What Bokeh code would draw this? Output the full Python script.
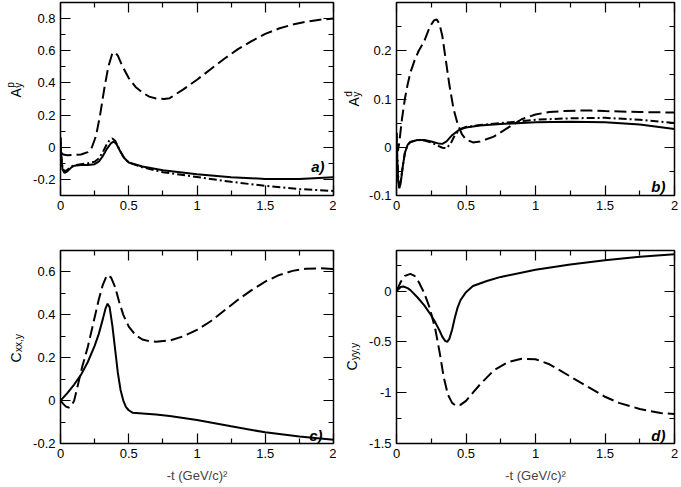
import math
from bokeh.plotting import figure
from bokeh.models import Range1d, LinearAxis, FixedTicker, Label, CustomLabelingPolicy
from bokeh.layouts import column, row
from bokeh.embed import file_html
from bokeh.resources import INLINE

# ---------------- data ----------------
x_ticks = [0, 0.5, 1, 1.5, 2]
x_tick_labels = ["0", "0.5", "1", "1.5", "2"]
x_minor = [0.25, 0.75, 1.25, 1.75]

# panel a) A_y^p
a_dash_x = [0, 0.02, 0.05, 0.1, 0.15, 0.2, 0.23, 0.26, 0.29, 0.32, 0.35, 0.38, 0.4, 0.42, 0.45, 0.5,
            0.55, 0.6, 0.65, 0.7, 0.76, 0.8, 0.9, 1.0, 1.1, 1.2, 1.3, 1.4, 1.5, 1.6, 1.7, 1.8, 1.9, 2.0]
a_dash_y = [-0.03, -0.045, -0.05, -0.048, -0.045, -0.03, 0.0, 0.07, 0.2, 0.36, 0.5, 0.585, 0.59, 0.57,
            0.51, 0.43, 0.375, 0.34, 0.315, 0.303, 0.3, 0.305, 0.36, 0.42, 0.485, 0.55, 0.61, 0.66,
            0.705, 0.738, 0.763, 0.781, 0.793, 0.8]
a_solid_x = [0, 0.005, 0.015, 0.03, 0.05, 0.08, 0.1, 0.15, 0.2, 0.25, 0.28, 0.31, 0.34, 0.37, 0.39,
             0.41, 0.44, 0.47, 0.5, 0.6, 0.75, 1.0, 1.25, 1.5, 1.75, 2.0]
a_solid_y = [0.06, -0.05, -0.14, -0.16, -0.15, -0.125, -0.115, -0.11, -0.11, -0.105, -0.09, -0.055,
             -0.01, 0.025, 0.035, 0.02, -0.03, -0.07, -0.095, -0.12, -0.143, -0.168, -0.186, -0.197,
             -0.198, -0.186]
a_dd_x = [0, 0.005, 0.015, 0.03, 0.05, 0.08, 0.1, 0.15, 0.2, 0.25, 0.28, 0.31, 0.34, 0.36, 0.38, 0.4,
          0.43, 0.46, 0.5, 0.6, 0.75, 1.0, 1.25, 1.5, 1.75, 2.0]
a_dd_y = [0.06, -0.05, -0.13, -0.15, -0.14, -0.12, -0.112, -0.105, -0.1, -0.09, -0.07, -0.03, 0.02,
          0.045, 0.055, 0.04, -0.01, -0.06, -0.095, -0.125, -0.155, -0.185, -0.215, -0.24, -0.26, -0.272]
a_y_ticks = [-0.2, 0, 0.2, 0.4, 0.6, 0.8]
a_y_labels = ["-0.2", "0", "0.2", "0.4", "0.6", "0.8"]
a_y_minor = [-0.3, -0.1, 0.1, 0.3, 0.5, 0.7, 0.9]

# panel b) A_y^d
b_dash_x = [0, 0.01, 0.02, 0.04, 0.06, 0.08, 0.1, 0.13, 0.16, 0.2, 0.24, 0.27, 0.29, 0.31, 0.33, 0.35,
            0.38, 0.41, 0.44, 0.47, 0.5, 0.55, 0.6, 0.7, 0.8, 0.9, 1.0, 1.1, 1.2, 1.3, 1.4, 1.5, 1.75, 2.0]
b_dash_y = [0.0, -0.008, 0.01, 0.06, 0.1, 0.13, 0.155, 0.18, 0.2, 0.22, 0.25, 0.263, 0.265, 0.255,
            0.23, 0.19, 0.13, 0.08, 0.048, 0.027, 0.016, 0.01, 0.012, 0.022, 0.04, 0.058, 0.068, 0.073,
            0.075, 0.076, 0.076, 0.075, 0.073, 0.072]
b_solid_x = [0, 0.005, 0.012, 0.02, 0.03, 0.045, 0.06, 0.08, 0.1, 0.15, 0.2, 0.25, 0.3, 0.33, 0.36,
             0.4, 0.45, 0.5, 0.6, 0.75, 1.0, 1.25, 1.5, 1.75, 2.0]
b_solid_y = [0.03, -0.02, -0.07, -0.085, -0.075, -0.04, -0.012, 0.005, 0.011, 0.015, 0.015, 0.012,
             0.008, 0.007, 0.012, 0.025, 0.036, 0.041, 0.045, 0.048, 0.052, 0.053, 0.052, 0.047, 0.038]
b_dd_x = [0, 0.005, 0.012, 0.02, 0.03, 0.045, 0.06, 0.08, 0.1, 0.15, 0.2, 0.25, 0.3, 0.33, 0.36, 0.39,
          0.42, 0.46, 0.5, 0.6, 0.75, 1.0, 1.25, 1.5, 1.75, 2.0]
b_dd_y = [0.03, -0.015, -0.06, -0.08, -0.072, -0.04, -0.012, 0.005, 0.011, 0.015, 0.014, 0.01, 0.003,
          -0.001, -0.002, 0.008, 0.025, 0.038, 0.042, 0.046, 0.05, 0.057, 0.06, 0.061, 0.057, 0.05]
b_y_ticks = [-0.1, 0, 0.1, 0.2, 0.3]
b_y_labels = ["-0.1", "0", "0.1", "0.2", ""]
b_y_minor = [-0.05, 0.05, 0.15, 0.25]

# panel c) C_xx,y
c_solid_x = [0, 0.05, 0.1, 0.15, 0.2, 0.25, 0.28, 0.31, 0.33, 0.345, 0.36, 0.38, 0.4, 0.42, 0.44,
             0.46, 0.48, 0.5, 0.53, 0.6, 0.7, 0.8, 1.0, 1.25, 1.5, 1.75, 2.0]
c_solid_y = [0.0, 0.035, 0.075, 0.12, 0.18, 0.255, 0.31, 0.38, 0.43, 0.452, 0.435, 0.35, 0.24, 0.13,
             0.05, 0.0, -0.03, -0.045, -0.057, -0.06, -0.065, -0.072, -0.09, -0.12, -0.148, -0.167, -0.182]
c_dash_x = [0, 0.02, 0.04, 0.06, 0.08, 0.1, 0.13, 0.16, 0.2, 0.24, 0.28, 0.31, 0.34, 0.37, 0.4, 0.43,
            0.46, 0.5, 0.55, 0.6, 0.65, 0.7, 0.8, 0.9, 1.0, 1.1, 1.2, 1.3, 1.4, 1.5, 1.6, 1.7, 1.8, 1.9, 2.0]
c_dash_y = [0.0, -0.015, -0.028, -0.033, -0.025, 0.0, 0.08, 0.16, 0.25, 0.36, 0.47, 0.54, 0.585, 0.575,
            0.53, 0.46, 0.4, 0.345, 0.305, 0.285, 0.277, 0.275, 0.28, 0.3, 0.33, 0.37, 0.42, 0.47,
            0.515, 0.555, 0.585, 0.605, 0.615, 0.617, 0.614]
c_y_ticks = [-0.2, 0, 0.2, 0.4, 0.6]
c_y_labels = ["-0.2", "0", "0.2", "0.4", "0.6"]
c_y_minor = [-0.1, 0.1, 0.3, 0.5, 0.7]

# panel d) C_yy,y
d_solid_x = [0, 0.03, 0.05, 0.08, 0.1, 0.15, 0.2, 0.25, 0.28, 0.31, 0.33, 0.35, 0.365, 0.38, 0.4,
             0.42, 0.44, 0.46, 0.5, 0.55, 0.65, 0.75, 1.0, 1.25, 1.5, 1.75, 2.0]
d_solid_y = [0.0, 0.04, 0.045, 0.03, 0.01, -0.06, -0.14, -0.24, -0.31, -0.39, -0.45, -0.49, -0.5,
             -0.47, -0.38, -0.26, -0.16, -0.09, -0.01, 0.05, 0.1, 0.14, 0.21, 0.262, 0.305, 0.338, 0.362]
d_dash_x = [0, 0.03, 0.06, 0.1, 0.13, 0.16, 0.2, 0.24, 0.28, 0.31, 0.34, 0.37, 0.4, 0.43, 0.46, 0.5,
            0.55, 0.6, 0.7, 0.8, 0.9, 1.0, 1.1, 1.25, 1.4, 1.5, 1.6, 1.75, 1.9, 2.0]
d_dash_y = [0.0, 0.09, 0.15, 0.17, 0.15, 0.09, -0.02, -0.17, -0.38, -0.6, -0.85, -1.02, -1.1, -1.13,
            -1.12, -1.08, -1.0, -0.92, -0.78, -0.7, -0.665, -0.67, -0.72, -0.84, -0.96, -1.04, -1.1,
            -1.16, -1.2, -1.21]
d_y_ticks = [-1.5, -1, -0.5, 0]
d_y_labels = ["-1.5", "-1", "-0.5", "0"]
d_y_minor = [-1.25, -0.75, -0.25, 0.25]

x_title = "-t (GeV/c)\u00b2"

# ---------------- styling ----------------
FONT = "Liberation Sans"
DASH = "12 5"
DASHDOT = "8 3 2 3"
LW = 2


def make_panel(y_range, y_ticks, y_labels, y_minor, left, right, top, bottom, fw, fh, xlabel):
    p = figure(frame_width=fw, frame_height=fh, x_range=Range1d(0, 2), y_range=Range1d(*y_range),
               output_backend="svg", toolbar_location=None,
               min_border_left=left, min_border_right=right, min_border_top=top,
               min_border_bottom=bottom, background_fill_color="white",
               border_fill_color="white")
    p.grid.visible = False
    p.outline_line_color = "black"
    p.outline_line_width = 1.5

    xt = FixedTicker(ticks=x_ticks, minor_ticks=x_minor)
    yt = FixedTicker(ticks=y_ticks, minor_ticks=y_minor)
    p.xaxis.ticker = xt
    p.yaxis.ticker = yt
    p.xaxis.major_label_overrides = {t: l for t, l in zip(x_ticks, x_tick_labels)}
    p.yaxis.major_label_overrides = {t: l for t, l in zip(y_ticks, y_labels)}
    for ax in (p.xaxis[0], p.yaxis[0]):
        ax.axis_line_color = None
        ax.major_tick_in = 10
        ax.major_tick_out = 0
        ax.minor_tick_in = 5
        ax.minor_tick_out = 0
        ax.major_tick_line_width = 1.2
        ax.minor_tick_line_width = 1.2
        ax.major_label_text_font = FONT
        ax.major_label_text_font_size = "13px"
        ax.major_label_text_color = "black"
        ax.major_label_standoff = 5
    if xlabel:
        p.xaxis.axis_label = xlabel
        p.xaxis.axis_label_text_font = FONT
        p.xaxis.axis_label_text_font_size = "13px"
        p.xaxis.axis_label_text_font_style = "normal"
        p.xaxis.axis_label_standoff = 7

    no_labels = CustomLabelingPolicy(code="""
        for (let i = 0; i < indices.size; i++) { indices.unset(i) }
        return indices
    """)
    for place, tk in (("right", yt), ("above", xt)):
        ax = LinearAxis(ticker=tk, axis_line_color=None, major_tick_in=10, major_tick_out=0,
                        minor_tick_in=5, minor_tick_out=0, major_tick_line_width=1.2,
                        minor_tick_line_width=1.2, major_label_text_font_size="0px",
                        major_label_standoff=0, major_label_policy=no_labels)
        p.add_layout(ax, place)
    return p


def make_labfig(w, h):
    p = figure(width=w, height=h, x_range=Range1d(0, w), y_range=Range1d(0, h),
               output_backend="svg", toolbar_location=None, min_border=0, title=None,
               x_axis_location=None, y_axis_location=None, outline_line_color=None)
    p.grid.visible = False
    return p


def add_ylabel(p, main, sub, sup, bx, by):
    widths = {"A": 0.667, "C": 0.722}
    w = widths[main] * 14
    p.add_layout(Label(x=bx, y=by, x_units="screen", y_units="screen", text=main, angle=math.pi / 2,
                       text_font=FONT, text_font_size="14px", text_baseline="alphabetic",
                       text_align="left", text_color="black"))
    if sub:
        p.add_layout(Label(x=bx + 3, y=by + w + 0.5, x_units="screen", y_units="screen", text=sub,
                           angle=math.pi / 2, text_font=FONT, text_font_size="10px",
                           text_baseline="alphabetic", text_align="left", text_color="black"))
    if sup:
        p.add_layout(Label(x=bx - 5.5, y=by + w + 0.5, x_units="screen", y_units="screen", text=sup,
                           angle=math.pi / 2, text_font=FONT, text_font_size="10px",
                           text_baseline="alphabetic", text_align="left", text_color="black"))


def add_tag(p, text, rx, by):
    p.add_layout(Label(x=p.frame_width - rx, y=by, x_units="screen", y_units="screen", text=text,
                       text_font=FONT, text_font_size="15px", text_font_style="bold italic",
                       text_align="right", text_baseline="alphabetic", text_color="black"))


FH = 193
LAB_W = 28
BL = 60 - LAB_W

la = make_labfig(LAB_W, 2 + FH + 50)
add_ylabel(la, "A", "y", "p", 15, 98)
pa = make_panel((-0.3, 0.9), a_y_ticks, a_y_labels, a_y_minor, BL, 3, 2, 50, 273, FH, None)
pa.line(a_dash_x, a_dash_y, line_color="black", line_width=LW, line_dash=DASH)
pa.line(a_dd_x, a_dd_y, line_color="black", line_width=LW, line_dash=DASHDOT)
pa.line(a_solid_x, a_solid_y, line_color="black", line_width=LW)
add_tag(pa, "a)", 9, 29)

lb = make_labfig(LAB_W, 2 + FH + 50)
add_ylabel(lb, "A", "y", "d", 17, 89)
pb = make_panel((-0.1, 0.3), b_y_ticks, b_y_labels, b_y_minor, BL, 5, 2, 50, 278, FH, None)
pb.line(b_dash_x, b_dash_y, line_color="black", line_width=LW, line_dash=DASH)
pb.line(b_dd_x, b_dd_y, line_color="black", line_width=LW, line_dash=DASHDOT)
pb.line(b_solid_x, b_solid_y, line_color="black", line_width=LW)
add_tag(pb, "b)", 9, 9)

lc = make_labfig(LAB_W, 5 + FH + 42)
add_ylabel(lc, "C", "xx,y", None, 15, 81)
pc = make_panel((-0.2, 0.7), c_y_ticks, c_y_labels, c_y_minor, BL, 3, 5, 42, 273, FH, x_title)
pc.line(c_dash_x, c_dash_y, line_color="black", line_width=LW, line_dash=DASH)
pc.line(c_solid_x, c_solid_y, line_color="black", line_width=LW)
add_tag(pc, "c)", 11, 8)

ld = make_labfig(LAB_W, 5 + FH + 42)
add_ylabel(ld, "C", "yy,y", None, 15, 73)
pd_ = make_panel((-1.5, 0.4), d_y_ticks, d_y_labels, d_y_minor, BL, 5, 5, 42, 278, FH, x_title)
pd_.line(d_dash_x, d_dash_y, line_color="black", line_width=LW, line_dash=DASH)
pd_.line(d_solid_x, d_solid_y, line_color="black", line_width=LW)
add_tag(pd_, "d)", 9, 8)

layout = column(row(la, pa, lb, pb), row(lc, pc, ld, pd_))
open("out.html", "w").write(file_html(layout, INLINE))
